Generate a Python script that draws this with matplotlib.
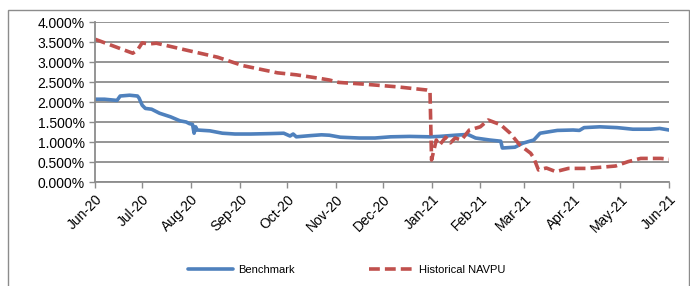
import matplotlib
matplotlib.use("Agg")
import matplotlib.pyplot as plt
import matplotlib.dates as mdates
from matplotlib.patches import Rectangle
from matplotlib.ticker import FuncFormatter, MultipleLocator
import pandas as pd

plt.rcParams["font.family"] = ["Liberation Sans", "DejaVu Sans"]

bench_dates = [
    "2020-06-01", "2020-06-07", "2020-06-15", "2020-06-17", "2020-06-23", "2020-06-28",
    "2020-06-29", "2020-07-01", "2020-07-03", "2020-07-07", "2020-07-12", "2020-07-19",
    "2020-07-25", "2020-07-29", "2020-07-31", "2020-08-02", "2020-08-03", "2020-08-04",
    "2020-08-05", "2020-08-13", "2020-08-21", "2020-08-29", "2020-09-08", "2020-09-20",
    "2020-09-29", "2020-10-03", "2020-10-05", "2020-10-07", "2020-10-16", "2020-10-23",
    "2020-10-28", "2020-11-04", "2020-11-16", "2020-11-26", "2020-12-06", "2020-12-18",
    "2020-12-31", "2021-01-06", "2021-01-16", "2021-01-24", "2021-01-29", "2021-02-07",
    "2021-02-14", "2021-02-15", "2021-02-23", "2021-02-28", "2021-03-07", "2021-03-11",
    "2021-03-22", "2021-04-01", "2021-04-05", "2021-04-08", "2021-04-18", "2021-04-29",
    "2021-05-09", "2021-05-20", "2021-05-26", "2021-06-01",
]
bench_values = [
    2.07, 2.07, 2.04, 2.15, 2.17, 2.15,
    2.10, 1.92, 1.84, 1.82, 1.72, 1.63,
    1.53, 1.50, 1.46, 1.44, 1.22, 1.38,
    1.30, 1.28, 1.22, 1.20, 1.20, 1.21,
    1.22, 1.15, 1.20, 1.13, 1.16, 1.18,
    1.17, 1.12, 1.10, 1.10, 1.13, 1.14,
    1.13, 1.14, 1.17, 1.19, 1.10, 1.05,
    1.02, 0.85, 0.87, 0.97, 1.05, 1.22,
    1.29, 1.30, 1.29, 1.36, 1.38, 1.36,
    1.32, 1.32, 1.34, 1.30,
]

navpu_dates = [
    "2020-06-01", "2020-06-25", "2020-06-28", "2020-07-01", "2020-07-05", "2020-07-10",
    "2020-07-20", "2020-07-31", "2020-08-18", "2020-09-03", "2020-09-25", "2020-10-07",
    "2020-10-22", "2020-10-28", "2020-11-03", "2020-11-18", "2020-12-10", "2020-12-29",
    "2020-12-31", "2021-01-01", "2021-01-04", "2021-01-06", "2021-01-10", "2021-01-13",
    "2021-01-16", "2021-01-20", "2021-01-25", "2021-02-01", "2021-02-06", "2021-02-14",
    "2021-02-20", "2021-02-26", "2021-03-05", "2021-03-07", "2021-03-10", "2021-03-15",
    "2021-03-21", "2021-03-29", "2021-04-09", "2021-04-19", "2021-04-28", "2021-05-06",
    "2021-05-14", "2021-05-27", "2021-06-01",
]
navpu_values = [
    3.57, 3.22, 3.30, 3.48, 3.45, 3.47,
    3.38, 3.28, 3.12, 2.91, 2.73, 2.68,
    2.59, 2.55, 2.49, 2.45, 2.38, 2.30,
    2.28, 0.55, 1.05, 0.92, 1.12, 0.98,
    1.10, 1.05, 1.30, 1.38, 1.55, 1.43,
    1.22, 0.93, 0.72, 0.60, 0.30, 0.35,
    0.26, 0.34, 0.34, 0.37, 0.40, 0.51,
    0.59, 0.59, 0.57,
]

month_ticks = pd.date_range("2020-06-01", "2021-06-01", freq="MS")

fig = plt.figure(figsize=(6.9, 2.86), dpi=100)
ax = fig.add_axes([0.1377, 0.3636, 0.8319, 0.5594])

ax.plot(pd.to_datetime(bench_dates), bench_values, color="#4F81BD", lw=2.6,
        label="Benchmark", solid_capstyle="round", solid_joinstyle="round")
ax.plot(pd.to_datetime(navpu_dates), navpu_values, color="#C0504D", lw=2.6,
        ls=(0, (3.0, 1.4)), label="Historical NAVPU")

ax.set_xlim(month_ticks[0], month_ticks[-1])
ax.set_ylim(0, 4)
ax.yaxis.set_major_locator(MultipleLocator(0.5))
ax.yaxis.set_major_formatter(FuncFormatter(lambda v, p: f"{v:.3f}%"))
ax.set_xticks(month_ticks)
ax.xaxis.set_major_formatter(mdates.DateFormatter("%b-%y"))
plt.setp(ax.get_xticklabels(), rotation=45, ha="right", rotation_mode="anchor")

ax.grid(axis="y", color="#8c8c8c", lw=1.3)
ax.set_axisbelow(True)
for s in ["top", "right"]:
    ax.spines[s].set_visible(False)
for s in ["left", "bottom"]:
    ax.spines[s].set_color("#8c8c8c")
    ax.spines[s].set_linewidth(1.3)
ax.tick_params(axis="both", colors="#8c8c8c", labelcolor="black", labelsize=10,
               length=4, width=1)

fig.legend(loc="center", bbox_to_anchor=(0.503, 0.056), ncol=2, frameon=False,
           fontsize=8, handlelength=4.0, columnspacing=6.7, handletextpad=0.5)

fig.patches.append(Rectangle((8 / 690, -0.05), 681 / 690, 1.05 - 10 / 286,
                             transform=fig.transFigure, fill=False,
                             edgecolor="#8c8c8c", lw=1))

fig.savefig("out.png", dpi=100)
